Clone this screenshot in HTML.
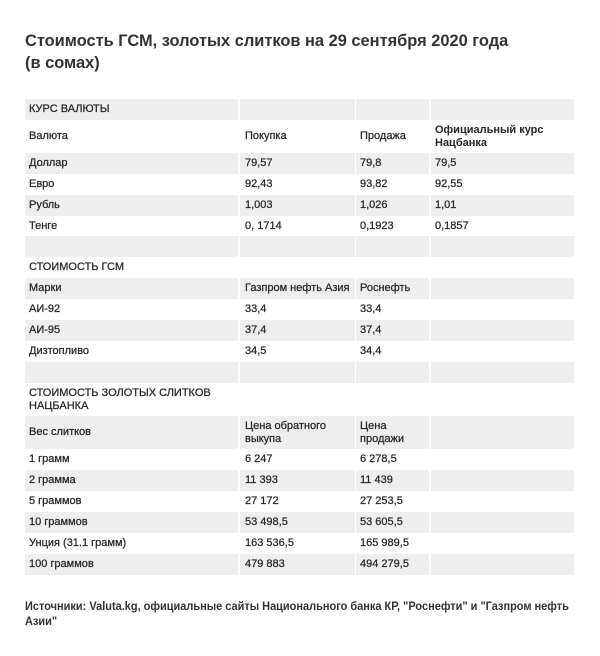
<!DOCTYPE html>
<html>
<head>
<meta charset="utf-8">
<style>
  html, body { margin:0; padding:0; background:#fff; }
  body { width:600px; height:656px; position:relative; overflow:hidden;
         font-family:"Liberation Sans", "Noto Sans CJK SC", sans-serif; color:#333; }
  .title { position:absolute; left:25px; top:30px; font-size:17px; font-weight:bold; line-height:22px; color:#333; white-space:nowrap; transform:scaleX(0.965); transform-origin:0 0; }
  .row { position:absolute; left:25px; width:550px; }
  .c { position:absolute; top:0; bottom:0; display:flex; align-items:center; font-size:11px; line-height:13px; color:#262626; white-space:nowrap; -webkit-text-stroke:0.25px #262626; }
  .g .c { background:#eeeeee; }
  .c1 { left:0; width:209px; padding-left:4px; }
  .c2 { left:215px; width:110px; padding-left:5px; }
  .c3 { left:331px; width:69px; padding-left:4px; }
  .c4 { left:406px; width:139px; padding-left:4px; }
  .b { font-weight:bold; -webkit-text-stroke:0; }
  .src { position:absolute; left:25px; top:599px; font-size:12px; font-weight:bold; line-height:15px; color:#333; white-space:nowrap; transform:scaleX(0.915); transform-origin:0 0; }
</style>
</head>
<body>
<div class="title">Стоимость ГСМ, золотых слитков на 29 сентября 2020 года<br>(в сомах)</div>

<div class="row g" style="top:99px;height:21px"><div class="c c1">КУРС ВАЛЮТЫ</div><div class="c c2"></div><div class="c c3"></div><div class="c c4"></div></div>
<div class="row" style="top:120px;height:33px"><div class="c c1">Валюта</div><div class="c c2">Покупка</div><div class="c c3">Продажа</div><div class="c c4 b">Официальный курс<br>Нацбанка</div></div>
<div class="row g" style="top:153px;height:21px"><div class="c c1">Доллар</div><div class="c c2">79,57</div><div class="c c3">79,8</div><div class="c c4">79,5</div></div>
<div class="row" style="top:174px;height:21px"><div class="c c1">Евро</div><div class="c c2">92,43</div><div class="c c3">93,82</div><div class="c c4">92,55</div></div>
<div class="row g" style="top:195px;height:21px"><div class="c c1">Рубль</div><div class="c c2">1,003</div><div class="c c3">1,026</div><div class="c c4">1,01</div></div>
<div class="row" style="top:216px;height:20px"><div class="c c1">Тенге</div><div class="c c2">0, 1714</div><div class="c c3">0,1923</div><div class="c c4">0,1857</div></div>
<div class="row g" style="top:236px;height:21px"><div class="c c1"></div><div class="c c2"></div><div class="c c3"></div><div class="c c4"></div></div>
<div class="row" style="top:257px;height:21px"><div class="c c1">СТОИМОСТЬ ГСМ</div></div>
<div class="row g" style="top:278px;height:21px"><div class="c c1">Марки</div><div class="c c2">Газпром нефть Азия</div><div class="c c3">Роснефть</div><div class="c c4"></div></div>
<div class="row" style="top:299px;height:21px"><div class="c c1">АИ-92</div><div class="c c2">33,4</div><div class="c c3">33,4</div><div class="c c4"></div></div>
<div class="row g" style="top:320px;height:21px"><div class="c c1">АИ-95</div><div class="c c2">37,4</div><div class="c c3">37,4</div><div class="c c4"></div></div>
<div class="row" style="top:341px;height:21px"><div class="c c1">Дизтопливо</div><div class="c c2">34,5</div><div class="c c3">34,4</div><div class="c c4"></div></div>
<div class="row g" style="top:362px;height:21px"><div class="c c1"></div><div class="c c2"></div><div class="c c3"></div><div class="c c4"></div></div>
<div class="row" style="top:383px;height:33px"><div class="c c1">СТОИМОСТЬ ЗОЛОТЫХ СЛИТКОВ<br>НАЦБАНКА</div></div>
<div class="row g" style="top:416px;height:33px"><div class="c c1">Вес слитков</div><div class="c c2">Цена обратного<br>выкупа</div><div class="c c3">Цена<br>продажи</div><div class="c c4"></div></div>
<div class="row" style="top:449px;height:21px"><div class="c c1">1 грамм</div><div class="c c2">6 247</div><div class="c c3">6 278,5</div><div class="c c4"></div></div>
<div class="row g" style="top:470px;height:21px"><div class="c c1">2 грамма</div><div class="c c2">11 393</div><div class="c c3">11 439</div><div class="c c4"></div></div>
<div class="row" style="top:491px;height:21px"><div class="c c1">5 граммов</div><div class="c c2">27 172</div><div class="c c3">27 253,5</div><div class="c c4"></div></div>
<div class="row g" style="top:512px;height:21px"><div class="c c1">10 граммов</div><div class="c c2">53 498,5</div><div class="c c3">53 605,5</div><div class="c c4"></div></div>
<div class="row" style="top:533px;height:21px"><div class="c c1">Унция (31.1 грамм)</div><div class="c c2">163 536,5</div><div class="c c3">165 989,5</div><div class="c c4"></div></div>
<div class="row g" style="top:554px;height:21px"><div class="c c1">100 граммов</div><div class="c c2">479 883</div><div class="c c3">494 279,5</div><div class="c c4"></div></div>

<div class="src">Источники: Valuta.kg, официальные сайты Национального банка КР, "Роснефти" и "Газпром нефть<br>Азии"</div>
</body>
</html>
